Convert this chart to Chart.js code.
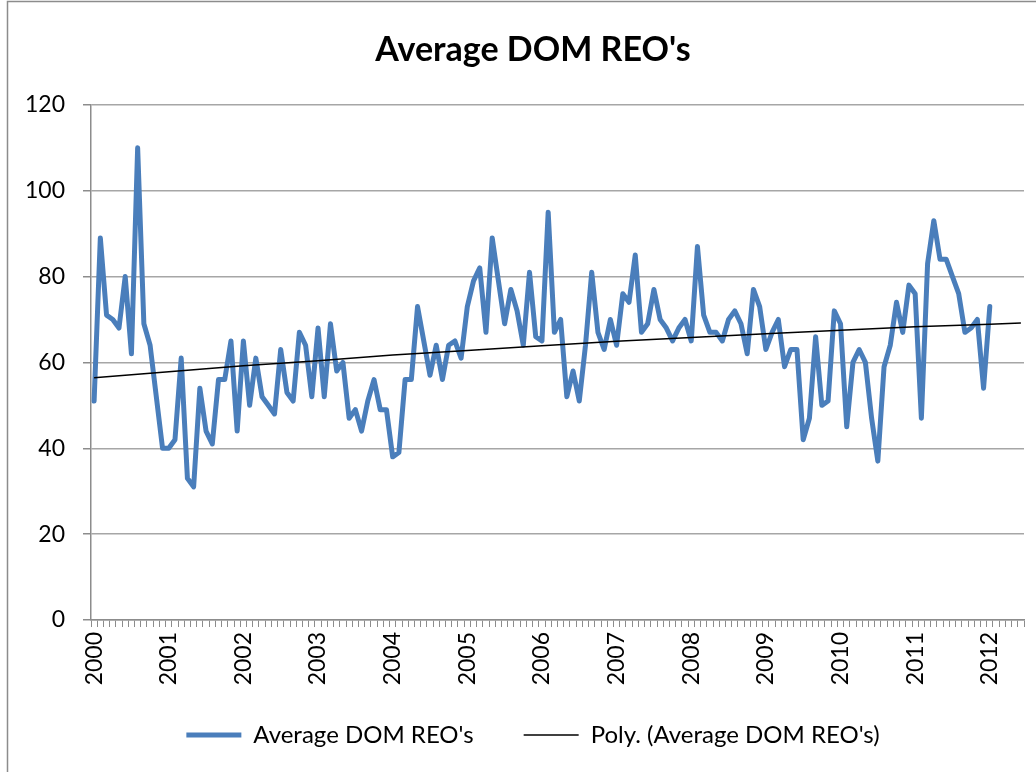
<!DOCTYPE html>
<html>
<head>
<meta charset="utf-8">
<script src="https://cdn.jsdelivr.net/npm/chart.js@4.4.1/dist/chart.umd.min.js"></script>
<style>
  html, body { margin: 0; padding: 0; background: #ffffff; }
  #wrap { position: relative; width: 1036px; height: 772px; }
</style>
</head>
<body>
<div id="wrap"><canvas id="c" width="1036" height="772"></canvas></div>
<script>
// ---- data ----
const yearLabels = ['2000','2001','2002','2003','2004','2005','2006','2007','2008','2009','2010','2011','2012'];
const monthsOnAxis = 150; // Jan 2000 .. Jun 2012

const avgDomReo = [
  51, 89, 71, 70, 68, 80, 62, 110, 69, 64, 52, 40,   // 2000
  40, 42, 61, 33, 31, 54, 44, 41, 56, 56, 65, 44,    // 2001
  65, 50, 61, 52, 50, 48, 63, 53, 51, 67, 64, 52,    // 2002
  68, 52, 69, 58, 60, 47, 49, 44, 51, 56, 49, 49,    // 2003
  38, 39, 56, 56, 73, 65, 57, 64, 56, 64, 65, 61,    // 2004
  73, 79, 82, 67, 89, 79, 69, 77, 72, 64, 81, 66,    // 2005
  65, 95, 67, 70, 52, 58, 51, 64, 81, 67, 63, 70,    // 2006
  64, 76, 74, 85, 67, 69, 77, 70, 68, 65, 68, 70,    // 2007
  65, 87, 71, 67, 67, 65, 70, 72, 69, 62, 77, 73,    // 2008
  63, 67, 70, 59, 63, 63, 42, 47, 66, 50, 51, 72,    // 2009
  69, 45, 60, 63, 60, 47, 37, 59, 64, 74, 67, 78,    // 2010
  76, 47, 83, 93, 84, 84, 80, 76, 67, 68, 70, 54,    // 2011
  73                                                 // 2012
];

// polynomial trend line at each January and at its end
const polyTrendJan = [56.4, 57.8, 59.2, 60.4, 61.7, 62.8, 63.9, 64.9, 65.8, 66.7, 67.5, 68.3, 68.9];
const polyTrendEnd = 69.2;

// ---- build category table ----
const categories = [];
for (let i = 0; i < monthsOnAxis; i++) {
  const y = yearLabels[0] * 1 + Math.floor(i / 12);
  categories.push(y + '-' + String(i % 12 + 1).padStart(2, '0'));
}
const trendData = new Array(monthsOnAxis).fill(null);
polyTrendJan.forEach((v, k) => { trendData[k * 12] = v; });
trendData[monthsOnAxis - 1] = polyTrendEnd;

const FONT = 'Lato, "Open Sans", sans-serif';

const framePlugin = {
  id: 'frame',
  beforeDraw(chart) {
    const ctx = chart.ctx;
    ctx.save();
    ctx.fillStyle = '#ffffff';
    ctx.fillRect(0, 0, chart.width, chart.height);
    ctx.strokeStyle = '#8c8c8c';
    ctx.lineWidth = 1.5;
    ctx.beginPath();
    ctx.moveTo(7.5, chart.height);
    ctx.lineTo(7.5, 1.5);
    ctx.lineTo(chart.width, 1.5);
    ctx.stroke();
    ctx.restore();
  }
};

new Chart(document.getElementById('c'), {
  type: 'line',
  data: {
    labels: categories,
    datasets: [
      {
        label: "Average DOM REO's",
        data: avgDomReo,
        borderColor: '#4a7ebb',
        backgroundColor: '#4a7ebb',
        borderWidth: 5,
        pointRadius: 0,
        pointStyle: 'line',
        tension: 0,
        borderJoinStyle: 'round',
        borderCapStyle: 'round',
        order: 1
      },
      {
        label: "Poly. (Average DOM REO's)",
        data: trendData,
        borderColor: '#000000',
        backgroundColor: '#000000',
        borderWidth: 1.5,
        pointRadius: 0,
        pointStyle: 'line',
        spanGaps: true,
        tension: 0,
        order: 0
      }
    ]
  },
  options: {
    responsive: false,
    animation: false,
    devicePixelRatio: 1,
    layout: { padding: { left: 42, right: 12, top: 0, bottom: 15 } },
    plugins: {
      tooltip: { enabled: false },
      title: {
        display: true,
        text: "Average DOM REO's",
        color: '#000000',
        font: { family: FONT, size: 34, weight: 'bold' },
        padding: { top: 30, bottom: 34 }
      },
      legend: {
        position: 'bottom',
        labels: {
          color: '#000000',
          font: { family: FONT, size: 24 },
          usePointStyle: true,
          pointStyle: 'line',
          pointStyleWidth: 55,
          padding: 50,
          sort: (a, b) => a.datasetIndex - b.datasetIndex
        }
      }
    },
    scales: {
      x: {
        type: 'category',
        offset: true,
        grid: { offset: true, drawOnChartArea: false, drawTicks: true, tickLength: 7, color: '#8c8c8c', lineWidth: 1 },
        border: { display: true, color: '#8c8c8c', width: 1.5 },
        ticks: {
          autoSkip: false,
          maxRotation: 90,
          minRotation: 90,
          padding: 5,
          color: '#000000',
          font: { family: FONT, size: 23 },
          callback: function (val, idx) {
            return idx % 12 === 0 ? yearLabels[idx / 12] : '';
          }
        },
        afterFit: (scale) => {
          scale.height = 53;
          scale.paddingLeft = 0;
          scale.paddingRight = 0;
          scale._computeLabelArea = () => undefined; // let the rotated year labels run past the box
        }
      },
      y: {
        min: 0,
        max: 120,
        grid: { color: '#a6a6a6', lineWidth: 1.5, drawTicks: true, tickLength: 8, tickColor: '#8c8c8c' },
        border: { display: true, color: '#8c8c8c', width: 1.5 },
        ticks: {
          stepSize: 20,
          padding: 18,
          color: '#000000',
          font: { family: FONT, size: 23 }
        },
        afterFit: (scale) => {
          scale.width = 49;
          scale._computeLabelArea = () => undefined; // labels may extend into the left padding
        }
      }
    }
  },
  plugins: [framePlugin]
});
</script>
</body>
</html>
